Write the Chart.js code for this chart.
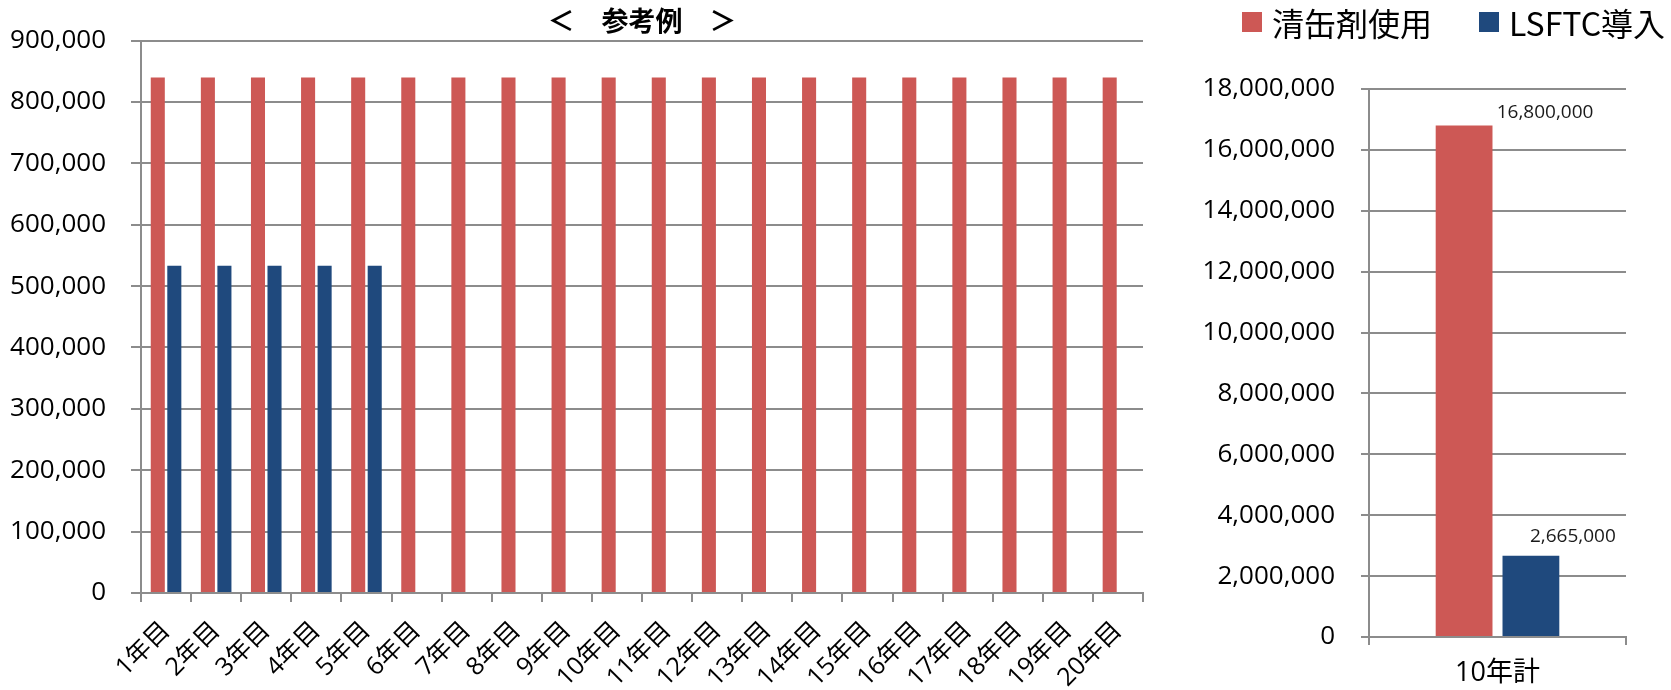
<!DOCTYPE html>
<html>
<head>
<meta charset="utf-8">
<script src="https://cdn.jsdelivr.net/npm/chart.js"></script>
<style>
body { margin: 0; background: #fff; width: 1671px; height: 690px; overflow: hidden; position: relative; }
#yearly { position: absolute; left: 0; top: 0; }
#total { position: absolute; left: 1160px; top: 0; }
#legend { position: absolute; left: 1242px; top: 0; height: 44px; display: flex; align-items: center; white-space: nowrap;
          font-family: 'Noto Sans CJK JP', sans-serif; font-size: 32px; line-height: 1; color: #000; }
#legend .item { display: flex; align-items: center; margin-right: 47px; }
#legend .box { display: inline-block; width: 20px; height: 20px; margin-right: 10px; }
</style>
</head>
<body>
<canvas id="yearly" width="1160" height="690"></canvas>
<canvas id="total" width="511" height="690"></canvas>
<div id="legend"></div>
<script>
// data
var yearLabels = ['1年目', '2年目', '3年目', '4年目', '5年目', '6年目', '7年目', '8年目', '9年目', '10年目',
                  '11年目', '12年目', '13年目', '14年目', '15年目', '16年目', '17年目', '18年目', '19年目', '20年目'];
var seriesNames = ['清缶剤使用', 'LSFTC導入'];
var seriesColors = ['#CD5855', '#1F497D'];
var cleanerYearly = [840000, 840000, 840000, 840000, 840000, 840000, 840000, 840000, 840000, 840000,
                     840000, 840000, 840000, 840000, 840000, 840000, 840000, 840000, 840000, 840000];
var lsftcYearly = [533000, 533000, 533000, 533000, 533000, null, null, null, null, null,
                   null, null, null, null, null, null, null, null, null, null];
var totalLabels = ['10年計'];
var cleanerTotal = [16800000];
var lsftcTotal = [2665000];

var gridColor = '#8c8c8c';
Chart.defaults.font.family = "'Open Sans', 'Noto Sans CJK JP', sans-serif";
Chart.defaults.color = '#000';

function fmt(v) { return Number(v).toLocaleString('en-US'); }

// values over the bars of the totals chart, shifted to the right like the original
var valueLabels = {
    id: 'valueLabels',
    afterDatasetsDraw: function(chart) {
        var ctx = chart.ctx;
        var shift = [[81, 13], [42, 19]];
        ctx.save();
        ctx.font = "19px 'Open Sans'";
        ctx.fillStyle = '#1a1a1a';
        ctx.textAlign = 'center';
        ctx.textBaseline = 'middle';
        chart.data.datasets.forEach(function(ds, i) {
            chart.getDatasetMeta(i).data.forEach(function(bar, j) {
                ctx.fillText(fmt(ds.data[j]), bar.x + shift[i][0], bar.y - shift[i][1]);
            });
        });
        ctx.restore();
    }
};

new Chart(document.getElementById('yearly'), {
    type: 'bar',
    data: {
        labels: yearLabels,
        datasets: [
            { label: seriesNames[0], data: cleanerYearly, backgroundColor: seriesColors[0] },
            { label: seriesNames[1], data: lsftcYearly, backgroundColor: seriesColors[1] }
        ]
    },
    options: {
        responsive: false,
        animation: false,
        devicePixelRatio: 1,
        datasets: { bar: { categoryPercentage: 0.66, barPercentage: 0.85 } },
        layout: { padding: { left: 0, right: 17, top: 0, bottom: 0 } },
        plugins: {
            legend: { display: false },
            tooltip: { enabled: false },
            title: {
                display: true,
                fullSize: false,
                text: '＜　参考例　＞',
                color: '#000',
                font: { size: 27, weight: 'bold', family: "'Noto Sans CJK JP', sans-serif" },
                padding: { top: 3, bottom: 4 }
            }
        },
        scales: {
            x: {
                grid: { drawOnChartArea: false, tickLength: 9, color: gridColor, lineWidth: 2 },
                border: { color: gridColor, width: 2 },
                ticks: { autoSkip: false, minRotation: 45, maxRotation: 45, padding: 14, font: { size: 25 } },
                afterFit: function(s) { s.height = 97; }
            },
            y: {
                min: 0,
                max: 900000,
                grid: { tickLength: 10, color: gridColor, lineWidth: 2 },
                border: { color: gridColor, width: 2 },
                ticks: { stepSize: 100000, padding: 25, font: { size: 26 }, callback: fmt },
                afterFit: function(s) { s.width = 141; }
            }
        }
    }
});

new Chart(document.getElementById('total'), {
    type: 'bar',
    data: {
        labels: totalLabels,
        datasets: [
            { label: seriesNames[0], data: cleanerTotal, backgroundColor: seriesColors[0] },
            { label: seriesNames[1], data: lsftcTotal, backgroundColor: seriesColors[1] }
        ]
    },
    options: {
        responsive: false,
        animation: false,
        devicePixelRatio: 1,
        datasets: { bar: { categoryPercentage: 0.52, barPercentage: 0.85 } },
        layout: { padding: { left: 0, right: 45, top: 89, bottom: 0 } },
        plugins: { legend: { display: false }, tooltip: { enabled: false } },
        scales: {
            x: {
                grid: { drawOnChartArea: false, tickLength: 8, color: gridColor, lineWidth: 2 },
                border: { color: gridColor, width: 2 },
                ticks: { padding: 12, font: { size: 27 } },
                afterFit: function(s) { s.height = 53; }
            },
            y: {
                min: 0,
                max: 18000000,
                grid: { tickLength: 8, color: gridColor, lineWidth: 2 },
                border: { color: gridColor, width: 2 },
                ticks: { stepSize: 2000000, padding: 26, font: { size: 26 }, callback: fmt },
                afterFit: function(s) { s.width = 209; }
            }
        }
    },
    plugins: [valueLabels]
});

// html legend, shared by both charts
var legendBox = document.getElementById('legend');
seriesNames.forEach(function(name, i) {
    var item = document.createElement('div');
    item.className = 'item';
    var box = document.createElement('span');
    box.className = 'box';
    box.style.background = seriesColors[i];
    item.appendChild(box);
    item.appendChild(document.createTextNode(name));
    legendBox.appendChild(item);
});
</script>
</body>
</html>
